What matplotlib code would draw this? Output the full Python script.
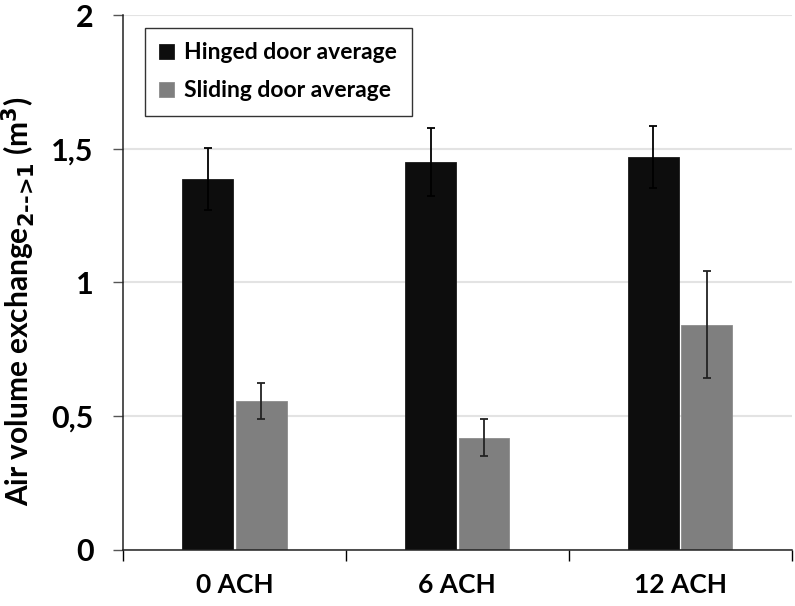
import matplotlib
matplotlib.use('Agg')
import matplotlib.pyplot as plt
import numpy as np

# Data
categories = ['0 ACH', '6 ACH', '12 ACH']
hinged_avg = [1.387, 1.451, 1.469]
hinged_err = [0.115, 0.126, 0.117]
sliding_avg = [0.556, 0.419, 0.842]
sliding_err = [0.067, 0.070, 0.199]
ytick_vals = [0, 0.5, 1, 1.5, 2]
ytick_labels = ['0', '0,5', '1', '1,5', '2']

plt.rcParams['font.family'] = ['Lato', 'DejaVu Sans']
plt.rcParams['font.weight'] = 'bold'

fig = plt.figure(figsize=(7.95, 6.06), dpi=100)
ax = fig.add_axes([0.1547, 0.0932, 0.841, 0.8817])

x = np.arange(len(categories))
w = 0.228
off = 0.12

ax.bar(x - off, hinged_avg, w, color='#0d0d0d', edgecolor='#1a1a1a', linewidth=0.6,
       label='Hinged door average', zorder=2)
ax.bar(x + off, sliding_avg, w, color='#7f7f7f', edgecolor='#8c8c8c', linewidth=0.6,
       label='Sliding door average', zorder=2)
ax.errorbar(x - off, hinged_avg, yerr=hinged_err, fmt='none', ecolor='black',
            elinewidth=1.3, capsize=3, capthick=1.3, zorder=3)
ax.errorbar(x + off, sliding_avg, yerr=sliding_err, fmt='none', ecolor='#222222',
            elinewidth=1.3, capsize=3, capthick=1.3, zorder=3)

ax.set_xlim(-0.5, 2.5)
ax.set_ylim(0, 2)
ax.set_yticks(ytick_vals)
ax.set_yticklabels(ytick_labels, fontsize=22, fontweight='bold')
ax.set_xticks([-0.5, 0.5, 1.5, 2.5])
ax.set_xticklabels([])
ax.set_xticks(x, minor=True)
ax.set_xticklabels(categories, minor=True, fontsize=19, fontweight='bold')
ax.tick_params(axis='x', which='minor', length=0, pad=17)
ax.tick_params(axis='x', which='major', length=8, width=1, color='black')
ax.tick_params(axis='y', length=7, width=1, color='#555555', pad=14)

ax.grid(axis='y', color='#e3e3e3', linewidth=1.5, zorder=0)
ax.set_axisbelow(True)
for s in ['top', 'right']:
    ax.spines[s].set_visible(False)
for s in ['left', 'bottom']:
    ax.spines[s].set_linewidth(1.1)
    ax.spines[s].set_color('#222222')

ax.set_ylabel('Air volume exchange$_{\\mathbf{2\\text{-->}1}}$ (m$^{\\mathbf{3}}$)',
              fontsize=21.5, fontweight='bold')
ax.yaxis.set_label_coords(-0.128, 0.465)

leg = ax.legend(loc='upper left', bbox_to_anchor=(0.033, 0.976), borderaxespad=0,
                fontsize=16.5, frameon=True, fancybox=False, edgecolor='black',
                handlelength=0.65, handleheight=0.65, handletextpad=0.45,
                labelspacing=0.75, borderpad=0.62)
leg.get_frame().set_linewidth(1.0)

fig.savefig('out.png', dpi=100)
